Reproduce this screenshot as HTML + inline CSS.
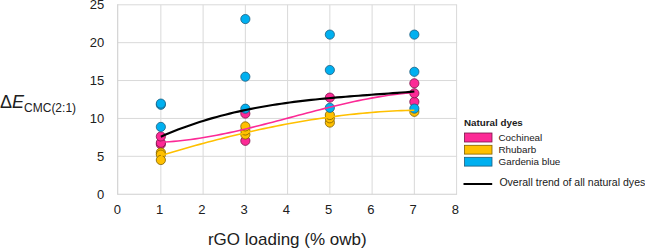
<!DOCTYPE html>
<html><head><meta charset="utf-8"><style>
html,body{margin:0;padding:0;background:#fff;}
body{width:645px;height:249px;overflow:hidden;}
svg{display:block;font-family:"Liberation Sans",sans-serif;}
text{fill:#202020;}
</style></head><body>
<svg width="645" height="249" viewBox="0 0 645 249">
<rect width="645" height="249" fill="#fff"/>
<line x1="160.85" y1="4.80" x2="160.85" y2="194.20" stroke="#D9D9D9" stroke-width="1"/>
<line x1="203.10" y1="4.80" x2="203.10" y2="194.20" stroke="#D9D9D9" stroke-width="1"/>
<line x1="245.35" y1="4.80" x2="245.35" y2="194.20" stroke="#D9D9D9" stroke-width="1"/>
<line x1="287.60" y1="4.80" x2="287.60" y2="194.20" stroke="#D9D9D9" stroke-width="1"/>
<line x1="329.85" y1="4.80" x2="329.85" y2="194.20" stroke="#D9D9D9" stroke-width="1"/>
<line x1="372.10" y1="4.80" x2="372.10" y2="194.20" stroke="#D9D9D9" stroke-width="1"/>
<line x1="414.35" y1="4.80" x2="414.35" y2="194.20" stroke="#D9D9D9" stroke-width="1"/>
<line x1="456.60" y1="4.80" x2="456.60" y2="194.20" stroke="#D9D9D9" stroke-width="1"/>
<line x1="117.70" y1="156.32" x2="457.10" y2="156.32" stroke="#D9D9D9" stroke-width="1"/>
<line x1="117.70" y1="118.44" x2="457.10" y2="118.44" stroke="#D9D9D9" stroke-width="1"/>
<line x1="117.70" y1="80.56" x2="457.10" y2="80.56" stroke="#D9D9D9" stroke-width="1"/>
<line x1="117.70" y1="42.68" x2="457.10" y2="42.68" stroke="#D9D9D9" stroke-width="1"/>
<line x1="117.70" y1="4.80" x2="457.10" y2="4.80" stroke="#D9D9D9" stroke-width="1"/>
<line x1="117.70" y1="4.30" x2="117.70" y2="194.70" stroke="#CFCFCF" stroke-width="1.1"/>
<line x1="117.70" y1="194.20" x2="457.10" y2="194.20" stroke="#CFCFCF" stroke-width="1.1"/>
<circle cx="160.85" cy="144.30" r="4.60" fill="#FC2A96" stroke="#7a1548" stroke-width="0.80"/>
<circle cx="160.85" cy="142.80" r="4.60" fill="#FC2A96" stroke="#7a1548" stroke-width="0.80"/>
<circle cx="160.85" cy="136.50" r="4.60" fill="#FC2A96" stroke="#7a1548" stroke-width="0.80"/>
<circle cx="245.35" cy="140.80" r="4.60" fill="#FC2A96" stroke="#7a1548" stroke-width="0.80"/>
<circle cx="245.35" cy="113.60" r="4.60" fill="#FC2A96" stroke="#7a1548" stroke-width="0.80"/>
<circle cx="329.85" cy="97.60" r="4.60" fill="#FC2A96" stroke="#7a1548" stroke-width="0.80"/>
<circle cx="414.35" cy="101.80" r="4.60" fill="#FC2A96" stroke="#7a1548" stroke-width="0.80"/>
<circle cx="414.35" cy="93.30" r="4.60" fill="#FC2A96" stroke="#7a1548" stroke-width="0.80"/>
<circle cx="414.35" cy="83.30" r="4.60" fill="#FC2A96" stroke="#7a1548" stroke-width="0.80"/>
<circle cx="160.85" cy="152.60" r="4.60" fill="#FFC000" stroke="#7f6000" stroke-width="0.80"/>
<circle cx="160.85" cy="154.60" r="4.60" fill="#FFC000" stroke="#7f6000" stroke-width="0.80"/>
<circle cx="160.85" cy="160.00" r="4.60" fill="#FFC000" stroke="#7f6000" stroke-width="0.80"/>
<circle cx="245.35" cy="134.50" r="4.60" fill="#FFC000" stroke="#7f6000" stroke-width="0.80"/>
<circle cx="245.35" cy="130.50" r="4.60" fill="#FFC000" stroke="#7f6000" stroke-width="0.80"/>
<circle cx="245.35" cy="126.40" r="4.60" fill="#FFC000" stroke="#7f6000" stroke-width="0.80"/>
<circle cx="329.85" cy="122.60" r="4.60" fill="#FFC000" stroke="#7f6000" stroke-width="0.80"/>
<circle cx="329.85" cy="118.30" r="4.60" fill="#FFC000" stroke="#7f6000" stroke-width="0.80"/>
<circle cx="329.85" cy="115.00" r="4.60" fill="#FFC000" stroke="#7f6000" stroke-width="0.80"/>
<circle cx="414.35" cy="111.80" r="4.60" fill="#FFC000" stroke="#7f6000" stroke-width="0.80"/>
<circle cx="160.85" cy="126.90" r="4.60" fill="#00B0F0" stroke="#1d5d7d" stroke-width="0.80"/>
<circle cx="160.85" cy="104.80" r="4.60" fill="#00B0F0" stroke="#1d5d7d" stroke-width="0.80"/>
<circle cx="160.85" cy="103.60" r="4.60" fill="#00B0F0" stroke="#1d5d7d" stroke-width="0.80"/>
<circle cx="245.35" cy="108.70" r="4.60" fill="#00B0F0" stroke="#1d5d7d" stroke-width="0.80"/>
<circle cx="245.35" cy="76.70" r="4.60" fill="#00B0F0" stroke="#1d5d7d" stroke-width="0.80"/>
<circle cx="245.35" cy="19.05" r="4.60" fill="#00B0F0" stroke="#1d5d7d" stroke-width="0.80"/>
<circle cx="329.85" cy="107.80" r="4.60" fill="#00B0F0" stroke="#1d5d7d" stroke-width="0.80"/>
<circle cx="329.85" cy="70.00" r="4.60" fill="#00B0F0" stroke="#1d5d7d" stroke-width="0.80"/>
<circle cx="329.85" cy="34.60" r="4.60" fill="#00B0F0" stroke="#1d5d7d" stroke-width="0.80"/>
<circle cx="414.35" cy="108.60" r="4.60" fill="#00B0F0" stroke="#1d5d7d" stroke-width="0.80"/>
<circle cx="414.35" cy="71.80" r="4.60" fill="#00B0F0" stroke="#1d5d7d" stroke-width="0.80"/>
<circle cx="414.35" cy="34.60" r="4.60" fill="#00B0F0" stroke="#1d5d7d" stroke-width="0.80"/>
<path d="M160.85 155.54 L165.15 154.24 L169.44 152.95 L173.74 151.68 L178.04 150.43 L182.33 149.19 L186.63 147.96 L190.93 146.75 L195.22 145.55 L199.52 144.37 L203.82 143.20 L208.11 142.05 L212.41 140.92 L216.71 139.80 L221.00 138.70 L225.30 137.61 L229.60 136.55 L233.89 135.50 L238.19 134.46 L242.49 133.45 L246.78 132.45 L251.08 131.47 L255.38 130.51 L259.67 129.57 L263.97 128.65 L268.27 127.74 L272.56 126.86 L276.86 126.00 L281.16 125.15 L285.45 124.33 L289.75 123.53 L294.04 122.74 L298.34 121.98 L302.64 121.24 L306.93 120.52 L311.23 119.82 L315.53 119.15 L319.82 118.50 L324.12 117.86 L328.42 117.26 L332.71 116.67 L337.01 116.11 L341.31 115.57 L345.60 115.05 L349.90 114.56 L354.20 114.10 L358.49 113.65 L362.79 113.24 L367.09 112.84 L371.38 112.47 L375.68 112.13 L379.98 111.81 L384.27 111.52 L388.57 111.26 L392.87 111.02 L397.16 110.81 L401.46 110.62 L405.76 110.46 L410.05 110.33 L414.35 110.23" fill="none" stroke="#FFC000" stroke-width="1.6"/>
<path d="M160.85 142.22 L165.15 142.00 L169.44 141.73 L173.74 141.39 L178.04 141.00 L182.33 140.55 L186.63 140.05 L190.93 139.50 L195.22 138.90 L199.52 138.25 L203.82 137.56 L208.11 136.83 L212.41 136.05 L216.71 135.24 L221.00 134.40 L225.30 133.52 L229.60 132.60 L233.89 131.66 L238.19 130.69 L242.49 129.69 L246.78 128.67 L251.08 127.63 L255.38 126.57 L259.67 125.49 L263.97 124.40 L268.27 123.29 L272.56 122.18 L276.86 121.05 L281.16 119.91 L285.45 118.77 L289.75 117.63 L294.04 116.49 L298.34 115.35 L302.64 114.21 L306.93 113.08 L311.23 111.95 L315.53 110.83 L319.82 109.73 L324.12 108.64 L328.42 107.56 L332.71 106.50 L337.01 105.47 L341.31 104.45 L345.60 103.46 L349.90 102.49 L354.20 101.55 L358.49 100.65 L362.79 99.77 L367.09 98.93 L371.38 98.12 L375.68 97.36 L379.98 96.63 L384.27 95.95 L388.57 95.31 L392.87 94.72 L397.16 94.17 L401.46 93.68 L405.76 93.24 L410.05 92.86 L414.35 92.53" fill="none" stroke="#FC2A96" stroke-width="1.6"/>
<path d="M160.85 136.65 L165.15 134.80 L169.44 133.01 L173.74 131.27 L178.04 129.60 L182.33 127.98 L186.63 126.42 L190.93 124.91 L195.22 123.45 L199.52 122.05 L203.82 120.70 L208.11 119.40 L212.41 118.15 L216.71 116.94 L221.00 115.78 L225.30 114.67 L229.60 113.60 L233.89 112.57 L238.19 111.58 L242.49 110.63 L246.78 109.72 L251.08 108.85 L255.38 108.02 L259.67 107.22 L263.97 106.46 L268.27 105.72 L272.56 105.02 L276.86 104.35 L281.16 103.71 L285.45 103.09 L289.75 102.51 L294.04 101.94 L298.34 101.41 L302.64 100.89 L306.93 100.40 L311.23 99.92 L315.53 99.47 L319.82 99.03 L324.12 98.61 L328.42 98.21 L332.71 97.82 L337.01 97.44 L341.31 97.08 L345.60 96.72 L349.90 96.38 L354.20 96.04 L358.49 95.71 L362.79 95.39 L367.09 95.07 L371.38 94.75 L375.68 94.44 L379.98 94.13 L384.27 93.81 L388.57 93.50 L392.87 93.18 L397.16 92.86 L401.46 92.53 L405.76 92.20 L410.05 91.85 L414.35 91.50" fill="none" stroke="#000" stroke-width="2.15"/>
<rect x="464.5" y="133" width="27.5" height="9" fill="#FC2A96" stroke="#7a1548" stroke-width="0.8"/>
<rect x="464.5" y="145.3" width="27.5" height="8.8" fill="#FFC000" stroke="#7f6000" stroke-width="0.8"/>
<rect x="464.5" y="157.3" width="27.5" height="8.8" fill="#00B0F0" stroke="#1d5d7d" stroke-width="0.8"/>
<line x1="463.5" y1="184" x2="492.2" y2="184" stroke="#000" stroke-width="2"/>
<text x="104.30" y="198.80" font-size="13.00" text-anchor="end" font-weight="normal" font-style="normal" >0</text>
<text x="104.30" y="160.92" font-size="13.00" text-anchor="end" font-weight="normal" font-style="normal" >5</text>
<text x="104.30" y="123.04" font-size="13.00" text-anchor="end" font-weight="normal" font-style="normal" >10</text>
<text x="104.30" y="85.16" font-size="13.00" text-anchor="end" font-weight="normal" font-style="normal" >15</text>
<text x="104.30" y="47.28" font-size="13.00" text-anchor="end" font-weight="normal" font-style="normal" >20</text>
<text x="104.30" y="9.40" font-size="13.00" text-anchor="end" font-weight="normal" font-style="normal" >25</text>
<text x="117.40" y="213.60" font-size="13.00" text-anchor="middle" font-weight="normal" font-style="normal" >0</text>
<text x="159.65" y="213.60" font-size="13.00" text-anchor="middle" font-weight="normal" font-style="normal" >1</text>
<text x="201.90" y="213.60" font-size="13.00" text-anchor="middle" font-weight="normal" font-style="normal" >2</text>
<text x="244.15" y="213.60" font-size="13.00" text-anchor="middle" font-weight="normal" font-style="normal" >3</text>
<text x="286.40" y="213.60" font-size="13.00" text-anchor="middle" font-weight="normal" font-style="normal" >4</text>
<text x="328.65" y="213.60" font-size="13.00" text-anchor="middle" font-weight="normal" font-style="normal" >5</text>
<text x="370.90" y="213.60" font-size="13.00" text-anchor="middle" font-weight="normal" font-style="normal" >6</text>
<text x="413.15" y="213.60" font-size="13.00" text-anchor="middle" font-weight="normal" font-style="normal" >7</text>
<text x="455.40" y="213.60" font-size="13.00" text-anchor="middle" font-weight="normal" font-style="normal" >8</text>
<text x="287.30" y="245.00" font-size="17.00" text-anchor="middle" font-weight="normal" font-style="normal" >rGO loading (% owb)</text>
<text x="464.00" y="125.60" font-size="9.80" text-anchor="start" font-weight="bold" font-style="normal" >Natural dyes</text>
<text x="498.50" y="140.80" font-size="9.85" text-anchor="start" font-weight="normal" font-style="normal" >Cochineal</text>
<text x="498.50" y="152.90" font-size="9.85" text-anchor="start" font-weight="normal" font-style="normal" >Rhubarb</text>
<text x="498.50" y="164.90" font-size="9.85" text-anchor="start" font-weight="normal" font-style="normal" >Gardenia blue</text>
<text transform="translate(499.4 185.8) scale(1 1.06)" x="0" y="0" font-size="10.55">Overall trend of all natural dyes</text>
<text x="0" y="107.9" font-size="18">&#916;<tspan font-style="italic">E</tspan><tspan font-size="12" dy="3.6">CMC(2:1)</tspan></text>
</svg>
</body></html>
